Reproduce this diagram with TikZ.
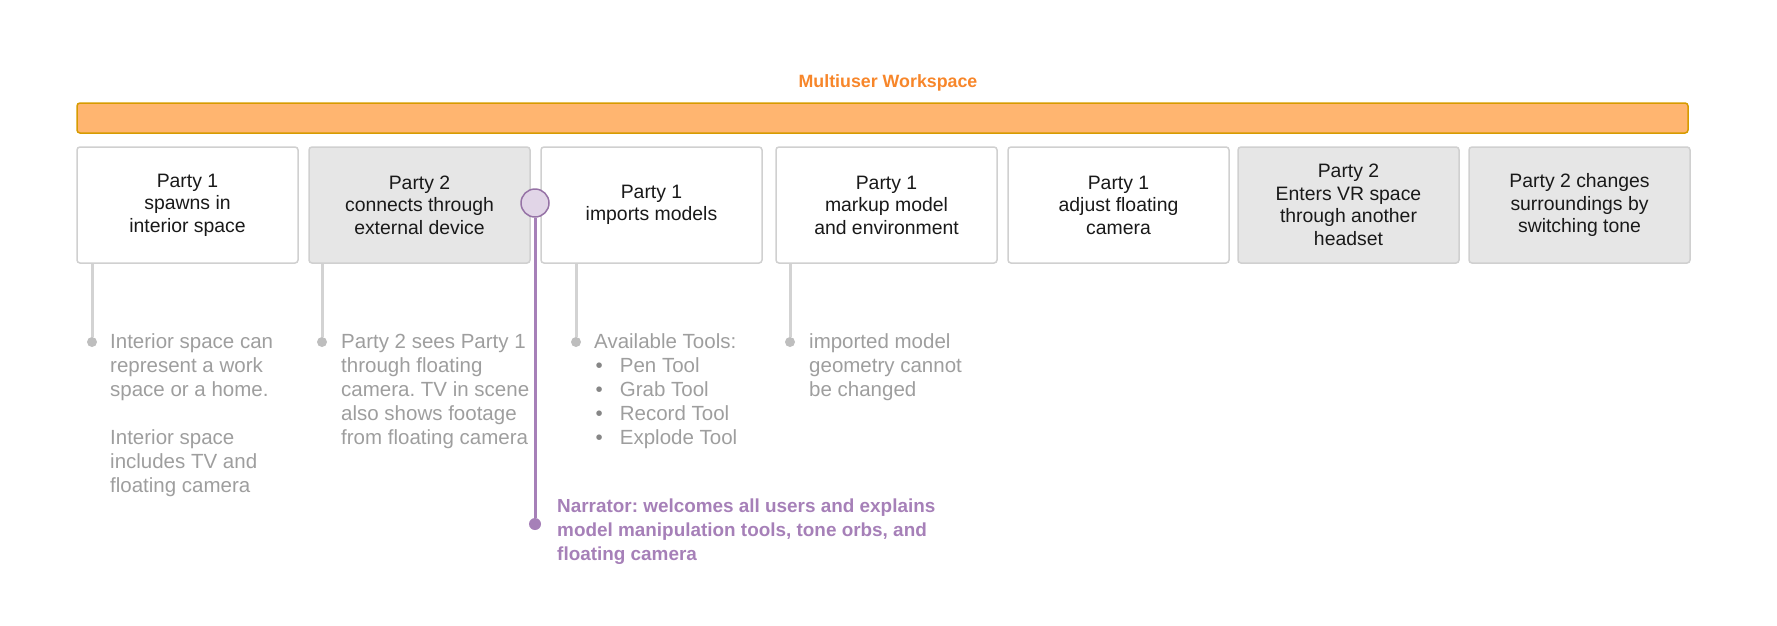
\documentclass[tikz,border=0pt]{standalone}
\usepackage{fontspec}
\setmainfont{Liberation Sans}
\frenchspacing
\definecolor{barfill}{HTML}{FFB570}
\definecolor{barline}{HTML}{D79B00}
\definecolor{titleorange}{HTML}{F7862A}
\definecolor{boxline}{HTML}{D0D0D0}
\definecolor{boxgray}{HTML}{E6E6E6}
\definecolor{notegray}{HTML}{9E9E9E}
\definecolor{stemgray}{HTML}{D3D3D3}
\definecolor{narpurple}{HTML}{A680B8}
\definecolor{narfill}{HTML}{E1D5E7}
\definecolor{narline}{HTML}{9673A6}
\tikzset{
  stepbox/.style={draw=boxline, line width=1.5pt, rounded corners=3pt, fill=white,
    minimum width=221pt, minimum height=116pt, align=center, text=black!90,
    font=\fontsize{19.4}{22.5}\selectfont},
  graybox/.style={stepbox, fill=boxgray},
  note/.style={anchor=north west, align=left, inner sep=0pt, text=notegray,
    font=\fontsize{20.5}{24}\selectfont},
  stem/.style={draw=stemgray, line width=3pt},
  stemdot/.style={circle, fill=stemgray!90!black, minimum size=10pt, inner sep=0pt},
}
\begin{document}
\begin{tikzpicture}[x=1pt,y=-1pt]
  \useasboundingbox (0,0) rectangle (1777,625);
  % workspace bar
  \node[font=\bfseries\fontsize{17.8}{20}\selectfont, text=titleorange] (title) at (888,83) {Multiuser Workspace};
  \node[draw=barline, fill=barfill, line width=1.5pt, rounded corners=3pt,
        minimum width=1611pt, minimum height=30pt, inner sep=0pt] (bar) at (882.5,118) {};
  % steps
  \node[stepbox] (s1) at (187.5,205) {Party 1\\spawns in\\interior space};
  \node[graybox] (s2) at (419.5,205) {Party 2\\connects through\\external device};
  \node[stepbox] (s3) at (651.5,205) {Party 1\\imports models};
  \node[stepbox] (s4) at (886.5,205) {Party 1\\markup model\\and environment};
  \node[stepbox] (s5) at (1118.5,205) {Party 1\\adjust floating\\camera};
  \node[graybox] (s6) at (1348.5,205) {Party 2\\Enters VR space\\through another\\headset};
  \node[graybox] (s7) at (1579.5,205) {Party 2 changes\\surroundings by\\switching tone};
  % notes under the steps
  \node[stemdot] (d1) at (92,342) {};
  \node[stemdot] (d2) at (322,342) {};
  \node[stemdot] (d3) at (576,342) {};
  \node[stemdot] (d4) at (790,342) {};
  \draw[stem] (d1) -- (d1 |- s1.south);
  \draw[stem] (d2) -- (d2 |- s2.south);
  \draw[stem] (d3) -- (d3 |- s3.south);
  \draw[stem] (d4) -- (d4 |- s4.south);
  \node[note] (n1) at (110,333) {Interior space can\\represent a work\\space or a home.\\[24pt]Interior space\\includes TV and\\floating camera};
  \node[note] (n2) at (341,334) {Party 2 sees Party 1\\through floating\\camera. TV in scene\\also shows footage\\from floating camera};
  \node[note] (n3) at (594,333) {Available Tools:\\
    \hspace*{1.5pt}{\color{notegray!85!black}\textbullet}\hspace{17pt}Pen Tool\\
    \hspace*{1.5pt}{\color{notegray!85!black}\textbullet}\hspace{17pt}Grab Tool\\
    \hspace*{1.5pt}{\color{notegray!85!black}\textbullet}\hspace{17pt}Record Tool\\
    \hspace*{1.5pt}{\color{notegray!85!black}\textbullet}\hspace{17pt}Explode Tool};
  \node[note] (n4) at (809,333) {imported model\\geometry cannot\\be changed};
  % narrator
  \node[circle, fill=narpurple, minimum size=12pt, inner sep=0pt] (nd) at (535,524) {};
  \node[circle, draw=narline, fill=narfill, line width=1.5pt, minimum size=28pt, inner sep=0pt] (nc) at (535,203) {};
  \draw[narpurple, line width=3pt] (nc) -- (nd);
  \node[note, text=narpurple, font=\bfseries\fontsize{18.9}{24}\selectfont] (nt) at (557,499)
    {Narrator: welcomes all users and explains\\model manipulation tools, tone orbs, and\\floating camera};
\end{tikzpicture}
\end{document}
